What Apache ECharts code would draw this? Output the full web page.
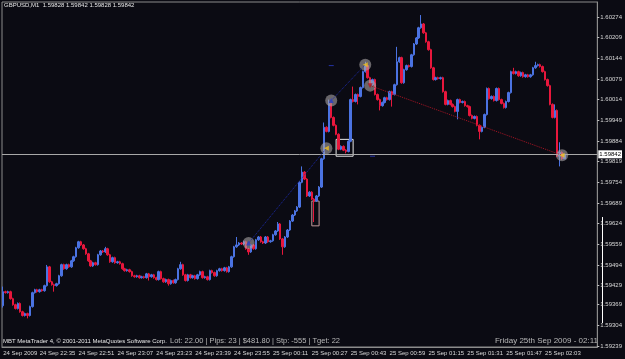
<!DOCTYPE html>
<html>
<head>
<meta charset="utf-8">
<script src="https://cdn.jsdelivr.net/npm/echarts@6/dist/echarts.min.js"></script>
<style>
    html, body { margin: 0; padding: 0; background: #0b0b13; }
    #chart { width: 625px; height: 359px; }
</style>
</head>
<body>
<div id="chart"></div>
<script>
// GBPUSD M1 蜡烛数据 [open, close, low, high]，从 24 Sep 22:20 到 25 Sep 02:11
const candles = [
    [1.59366, 1.59410, 1.59360, 1.59426], [1.59410, 1.59407, 1.59404, 1.59413], [1.59407, 1.59410, 1.59404, 1.59413], [1.59410, 1.59388, 1.59385, 1.59413],
    [1.59388, 1.59369, 1.59366, 1.59391], [1.59369, 1.59357, 1.59354, 1.59372], [1.59357, 1.59373, 1.59354, 1.59376], [1.59373, 1.59347, 1.59344, 1.59376],
    [1.59347, 1.59335, 1.59332, 1.59350], [1.59335, 1.59341, 1.59332, 1.59344], [1.59341, 1.59335, 1.59326, 1.59344], [1.59335, 1.59363, 1.59332, 1.59366],
    [1.59363, 1.59407, 1.59360, 1.59410], [1.59407, 1.59416, 1.59404, 1.59419], [1.59416, 1.59410, 1.59407, 1.59419], [1.59410, 1.59416, 1.59407, 1.59419],
    [1.59416, 1.59413, 1.59410, 1.59419], [1.59413, 1.59429, 1.59410, 1.59432], [1.59429, 1.59488, 1.59426, 1.59494], [1.59488, 1.59441, 1.59438, 1.59491],
    [1.59441, 1.59432, 1.59429, 1.59444], [1.59432, 1.59429, 1.59410, 1.59435], [1.59429, 1.59435, 1.59426, 1.59438], [1.59435, 1.59460, 1.59432, 1.59463],
    [1.59460, 1.59495, 1.59457, 1.59498], [1.59495, 1.59482, 1.59479, 1.59498], [1.59482, 1.59495, 1.59479, 1.59498], [1.59495, 1.59488, 1.59485, 1.59498],
    [1.59488, 1.59507, 1.59485, 1.59510], [1.59507, 1.59520, 1.59504, 1.59523], [1.59520, 1.59548, 1.59517, 1.59551], [1.59548, 1.59567, 1.59545, 1.59570],
    [1.59567, 1.59557, 1.59554, 1.59570], [1.59557, 1.59545, 1.59542, 1.59560], [1.59545, 1.59529, 1.59526, 1.59548], [1.59529, 1.59507, 1.59504, 1.59532],
    [1.59507, 1.59491, 1.59488, 1.59510], [1.59491, 1.59501, 1.59488, 1.59504], [1.59501, 1.59495, 1.59492, 1.59504], [1.59495, 1.59526, 1.59492, 1.59529],
    [1.59526, 1.59538, 1.59523, 1.59541], [1.59538, 1.59535, 1.59532, 1.59541], [1.59535, 1.59545, 1.59532, 1.59551], [1.59545, 1.59526, 1.59523, 1.59548],
    [1.59526, 1.59504, 1.59501, 1.59529], [1.59504, 1.59517, 1.59501, 1.59520], [1.59517, 1.59501, 1.59498, 1.59520], [1.59501, 1.59504, 1.59498, 1.59507],
    [1.59504, 1.59498, 1.59495, 1.59507], [1.59498, 1.59482, 1.59479, 1.59501], [1.59482, 1.59476, 1.59473, 1.59485], [1.59476, 1.59479, 1.59473, 1.59482],
    [1.59479, 1.59473, 1.59470, 1.59482], [1.59473, 1.59460, 1.59457, 1.59476], [1.59460, 1.59457, 1.59454, 1.59463], [1.59457, 1.59460, 1.59454, 1.59463],
    [1.59460, 1.59454, 1.59451, 1.59463], [1.59454, 1.59457, 1.59451, 1.59460], [1.59457, 1.59454, 1.59451, 1.59460], [1.59454, 1.59466, 1.59451, 1.59469],
    [1.59466, 1.59457, 1.59445, 1.59469], [1.59457, 1.59463, 1.59454, 1.59466], [1.59463, 1.59454, 1.59451, 1.59466], [1.59454, 1.59448, 1.59445, 1.59457],
    [1.59448, 1.59473, 1.59445, 1.59476], [1.59473, 1.59451, 1.59448, 1.59476], [1.59451, 1.59441, 1.59438, 1.59454], [1.59441, 1.59448, 1.59438, 1.59451],
    [1.59448, 1.59435, 1.59429, 1.59451], [1.59435, 1.59445, 1.59432, 1.59448], [1.59445, 1.59438, 1.59435, 1.59448], [1.59438, 1.59448, 1.59435, 1.59451],
    [1.59448, 1.59482, 1.59445, 1.59485], [1.59482, 1.59495, 1.59479, 1.59504], [1.59495, 1.59463, 1.59460, 1.59498], [1.59463, 1.59445, 1.59442, 1.59466],
    [1.59445, 1.59463, 1.59442, 1.59466], [1.59463, 1.59454, 1.59451, 1.59466], [1.59454, 1.59460, 1.59451, 1.59463], [1.59460, 1.59451, 1.59448, 1.59463],
    [1.59451, 1.59463, 1.59448, 1.59466], [1.59463, 1.59473, 1.59460, 1.59476], [1.59473, 1.59454, 1.59451, 1.59476], [1.59454, 1.59457, 1.59451, 1.59460],
    [1.59457, 1.59448, 1.59445, 1.59460], [1.59448, 1.59476, 1.59445, 1.59479], [1.59476, 1.59470, 1.59467, 1.59479], [1.59470, 1.59460, 1.59457, 1.59473],
    [1.59460, 1.59476, 1.59457, 1.59479], [1.59476, 1.59482, 1.59473, 1.59485], [1.59482, 1.59476, 1.59473, 1.59485], [1.59476, 1.59485, 1.59473, 1.59488],
    [1.59485, 1.59473, 1.59470, 1.59488], [1.59473, 1.59488, 1.59470, 1.59491], [1.59488, 1.59520, 1.59485, 1.59523], [1.59520, 1.59551, 1.59517, 1.59554],
    [1.59551, 1.59557, 1.59548, 1.59582], [1.59557, 1.59563, 1.59554, 1.59566], [1.59563, 1.59560, 1.59557, 1.59566], [1.59560, 1.59567, 1.59557, 1.59570],
    [1.59567, 1.59545, 1.59542, 1.59570], [1.59545, 1.59535, 1.59526, 1.59548], [1.59535, 1.59557, 1.59532, 1.59560], [1.59557, 1.59545, 1.59542, 1.59560],
    [1.59545, 1.59573, 1.59542, 1.59576], [1.59573, 1.59582, 1.59570, 1.59585], [1.59582, 1.59567, 1.59564, 1.59585], [1.59567, 1.59563, 1.59560, 1.59570],
    [1.59563, 1.59582, 1.59560, 1.59585], [1.59582, 1.59567, 1.59564, 1.59585], [1.59567, 1.59570, 1.59564, 1.59573], [1.59570, 1.59589, 1.59567, 1.59592],
    [1.59589, 1.59601, 1.59586, 1.59604], [1.59601, 1.59623, 1.59598, 1.59629], [1.59623, 1.59576, 1.59573, 1.59626], [1.59576, 1.59551, 1.59526, 1.59579],
    [1.59551, 1.59582, 1.59548, 1.59585], [1.59582, 1.59604, 1.59579, 1.59607], [1.59604, 1.59632, 1.59601, 1.59635], [1.59632, 1.59651, 1.59629, 1.59654],
    [1.59651, 1.59664, 1.59648, 1.59667], [1.59664, 1.59676, 1.59661, 1.59679], [1.59676, 1.59754, 1.59673, 1.59757], [1.59754, 1.59786, 1.59751, 1.59804],
    [1.59786, 1.59764, 1.59761, 1.59789], [1.59764, 1.59711, 1.59708, 1.59767], [1.59711, 1.59723, 1.59708, 1.59726], [1.59723, 1.59701, 1.59698, 1.59726],
    [1.59701, 1.59695, 1.59629, 1.59704], [1.59695, 1.59711, 1.59692, 1.59714], [1.59711, 1.59739, 1.59708, 1.59742], [1.59739, 1.59828, 1.59736, 1.59831],
    [1.59828, 1.59927, 1.59825, 1.59942], [1.59927, 1.59914, 1.59911, 1.59930], [1.59914, 1.60002, 1.59911, 1.60014], [1.60002, 1.59958, 1.59955, 1.60005],
    [1.59958, 1.59933, 1.59930, 1.59961], [1.59933, 1.59905, 1.59902, 1.59936], [1.59905, 1.59858, 1.59855, 1.59908], [1.59858, 1.59867, 1.59855, 1.59870],
    [1.59867, 1.59855, 1.59852, 1.59870], [1.59855, 1.59851, 1.59845, 1.59858], [1.59851, 1.59883, 1.59848, 1.59886], [1.59883, 1.60014, 1.59880, 1.60017],
    [1.60014, 1.60008, 1.60005, 1.60055], [1.60008, 1.60030, 1.60005, 1.60033], [1.60030, 1.60024, 1.59999, 1.60033], [1.60024, 1.60052, 1.60021, 1.60055],
    [1.60052, 1.60102, 1.60049, 1.60105], [1.60102, 1.60121, 1.60099, 1.60133], [1.60121, 1.60083, 1.60080, 1.60124], [1.60083, 1.60061, 1.60058, 1.60086],
    [1.60061, 1.60077, 1.60058, 1.60080], [1.60077, 1.60030, 1.60027, 1.60080], [1.60030, 1.60014, 1.60011, 1.60033], [1.60014, 1.59995, 1.59980, 1.60017],
    [1.59995, 1.60005, 1.59992, 1.60008], [1.60005, 1.60020, 1.60002, 1.60023], [1.60020, 1.60014, 1.60011, 1.60023], [1.60014, 1.60039, 1.60011, 1.60042],
    [1.60039, 1.60030, 1.59992, 1.60042], [1.60030, 1.60061, 1.60027, 1.60064], [1.60061, 1.60133, 1.60058, 1.60180], [1.60133, 1.60146, 1.60130, 1.60149],
    [1.60146, 1.60067, 1.60064, 1.60149], [1.60067, 1.60108, 1.60064, 1.60111], [1.60108, 1.60121, 1.60105, 1.60124], [1.60121, 1.60118, 1.60115, 1.60124],
    [1.60118, 1.60155, 1.60115, 1.60158], [1.60155, 1.60189, 1.60152, 1.60192], [1.60189, 1.60208, 1.60186, 1.60211], [1.60208, 1.60240, 1.60205, 1.60243],
    [1.60240, 1.60252, 1.60237, 1.60280], [1.60252, 1.60224, 1.60221, 1.60255], [1.60224, 1.60196, 1.60193, 1.60227], [1.60196, 1.60171, 1.60168, 1.60199],
    [1.60171, 1.60114, 1.60111, 1.60174], [1.60114, 1.60077, 1.60074, 1.60117], [1.60077, 1.60083, 1.60074, 1.60086], [1.60083, 1.60080, 1.60077, 1.60086],
    [1.60080, 1.60083, 1.60077, 1.60086], [1.60083, 1.60039, 1.60036, 1.60086], [1.60039, 1.59999, 1.59996, 1.60042], [1.59999, 1.60011, 1.59996, 1.60014],
    [1.60011, 1.59999, 1.59996, 1.60014], [1.59999, 1.59992, 1.59989, 1.60002], [1.59992, 1.59977, 1.59974, 1.59995], [1.59977, 1.60014, 1.59952, 1.60017],
    [1.60014, 1.60005, 1.60002, 1.60017], [1.60005, 1.60008, 1.60002, 1.60011], [1.60008, 1.59995, 1.59992, 1.60011], [1.59995, 1.59992, 1.59989, 1.59998],
    [1.59992, 1.59964, 1.59961, 1.59995], [1.59964, 1.59955, 1.59952, 1.59967], [1.59955, 1.59961, 1.59952, 1.59964], [1.59961, 1.59933, 1.59930, 1.59964],
    [1.59933, 1.59914, 1.59889, 1.59936], [1.59914, 1.59927, 1.59911, 1.59930], [1.59927, 1.59967, 1.59924, 1.59970], [1.59967, 1.60049, 1.59964, 1.60052],
    [1.60049, 1.60017, 1.60014, 1.60052], [1.60017, 1.60024, 1.60014, 1.60027], [1.60024, 1.60011, 1.60008, 1.60027], [1.60011, 1.60049, 1.60008, 1.60052],
    [1.60049, 1.60014, 1.60011, 1.60052], [1.60014, 1.60002, 1.59999, 1.60017], [1.60002, 1.59989, 1.59986, 1.60005], [1.59989, 1.60008, 1.59986, 1.60011],
    [1.60008, 1.60036, 1.60005, 1.60039], [1.60036, 1.60102, 1.60033, 1.60105], [1.60102, 1.60096, 1.60093, 1.60114], [1.60096, 1.60102, 1.60093, 1.60105],
    [1.60102, 1.60089, 1.60086, 1.60105], [1.60089, 1.60099, 1.60086, 1.60102], [1.60099, 1.60086, 1.60083, 1.60102], [1.60086, 1.60092, 1.60083, 1.60095],
    [1.60092, 1.60086, 1.60083, 1.60095], [1.60086, 1.60092, 1.60083, 1.60095], [1.60092, 1.60114, 1.60089, 1.60117], [1.60114, 1.60121, 1.60111, 1.60133],
    [1.60121, 1.60124, 1.60118, 1.60127], [1.60124, 1.60118, 1.60115, 1.60127], [1.60118, 1.60102, 1.60099, 1.60121], [1.60102, 1.60077, 1.60074, 1.60105],
    [1.60077, 1.60058, 1.60055, 1.60080], [1.60058, 1.59999, 1.59996, 1.60061], [1.59999, 1.59958, 1.59955, 1.60002], [1.59958, 1.59980, 1.59955, 1.59999],
    [1.59980, 1.59836, 1.59833, 1.59983], [1.59836, 1.59848, 1.59804, 1.59880], [1.59848, 1.59828, 1.59825, 1.59851], [1.59828, 1.59842, 1.59828, 1.59842]
];

// 右侧价格刻度
const priceTicks = [1.60274, 1.60209, 1.60144, 1.60079, 1.60014, 1.59949, 1.59884, 1.59819,
    1.59754, 1.59689, 1.59624, 1.59559, 1.59494, 1.59429, 1.59369, 1.59304, 1.59239];

// 底部时间刻度（第一个标签只显示日期）
const timeLabels = ['24 Sep 2009', '24 Sep 22:35', '24 Sep 22:51', '24 Sep 23:07', '24 Sep 23:23',
    '24 Sep 23:39', '24 Sep 23:55', '25 Sep 00:11', '25 Sep 00:27', '25 Sep 00:43', '25 Sep 00:59',
    '25 Sep 01:15', '25 Sep 01:31', '25 Sep 01:47', '25 Sep 02:03'];

// 交易标记：K线序号、价格、类型
const tradeBars = [101, 133, 135, 149, 151, 230];
const tradePrices = [1.59563, 1.59861, 1.60011, 1.60124, 1.60058, 1.59839];
const tradeKinds = ['buy', 'close', 'buy', 'close', 'sell', 'close'];
// 开平仓连线（tradeBars 中的下标）
const tradePairs = [[0, 1], [2, 3], [4, 5]];

// 挂单小横线
const orderBars = [135, 152];
const orderPrices = [1.60121, 1.59836];

// 方框 [起始K线, 结束K线, 低价, 高价]
const boxes = [[137, 144, 1.59836, 1.59889], [127, 130, 1.59617, 1.59695]];

const infoText = 'Lot: 22.00 | Pips: 23 | $481.80 | Stp: -555 | Tget: 22';
const dateText = 'Friday 25th Sep 2009 - 02:11';
const copyText = 'MBT MetaTrader 4, \u00a9 2001-2011 MetaQuotes Software Corp.';

// 颜色配置
const colors = {
    bg: '#0b0b13',
    up: '#4b73e2',
    down: '#e8173c',
    frame: '#8c8c8c',
    text: '#d8d8d8',
    buy: '#2a3cc8',
    sell: '#b01420',
    close: '#f0c020'
};

// 分钟 category，末尾留出图表右移的空位
const categories = [];
for (let i = 0; i < 245; i++) {
    const m = (22 * 60 + 20 + i) % 1440;
    const day = (22 * 60 + 20 + i) >= 1440 ? '25' : '24';
    const hh = String(Math.floor(m / 60)).padStart(2, '0');
    const mm = String(m % 60).padStart(2, '0');
    categories.push(day + ' Sep ' + hh + ':' + mm);
}

const showTime = (idx, val) => idx === 0 || timeLabels.includes(val);
const last = candles[candles.length - 1];
const font = 'Liberation Sans';

const chart = echarts.init(document.getElementById('chart'));

const option = {
    backgroundColor: colors.bg,
    animation: false,
    grid: {
        left: 2, right: 23, top: 2, bottom: 12,
        show: true, borderColor: colors.frame, borderWidth: 1
    },
    xAxis: {
        type: 'category',
        data: categories,
        boundaryGap: true,
        axisLine: { lineStyle: { color: colors.frame } },
        axisTick: { alignWithLabel: true, interval: showTime, length: 2, lineStyle: { color: '#c0c0c0' } },
        axisLabel: {
            interval: showTime,
            formatter: (v, i) => i === 0 ? timeLabels[0] : v,
            align: 'left', color: colors.text, fontSize: 6, fontFamily: font, margin: 3
        },
        splitLine: { show: false }
    },
    yAxis: {
        type: 'value',
        position: 'right',
        min: 1.59236,
        max: 1.60321,
        axisLine: { show: true, lineStyle: { color: colors.frame } },
        axisTick: { show: true, length: 2, customValues: priceTicks, lineStyle: { color: '#c0c0c0' } },
        axisLabel: {
            customValues: priceTicks,
            formatter: v => v.toFixed(5),
            color: colors.text, fontSize: 6, fontFamily: font, margin: 3
        },
        splitLine: { show: false }
    },
    graphic: [
        {
            type: 'text', left: 4, top: 2,
            style: { text: 'GBPUSD,M1  ' + [last[0], last[3], last[2], last[1]].map(v => v.toFixed(5)).join(' '),
                fill: '#e6e6e6', font: '6px ' + font }
        },
        {
            type: 'text', left: 3, top: 338,
            style: { text: copyText, fill: '#e6e6e6', font: '6px ' + font }
        },
        {
            type: 'text', left: 170, top: 337,
            style: { text: infoText, fill: '#b8b8b8', font: '7.5px ' + font }
        },
        {
            type: 'text', right: 27, top: 337,
            style: { text: dateText, fill: '#b8b8b8', font: '8px ' + font }
        },
        {
            type: 'line', shape: { x1: 602.5, y1: 217, x2: 602.5, y2: 323 },
            style: { stroke: '#ffffff', lineWidth: 1 }
        }
    ],
    series: [
        {
            name: 'GBPUSD',
            type: 'candlestick',
            data: candles,
            barWidth: 2,
            itemStyle: {
                color: colors.up, color0: colors.down,
                borderColor: colors.up, borderColor0: colors.down, borderWidth: 1
            },
            markArea: {
                silent: true,
                itemStyle: { color: 'transparent', borderColor: '#e8e8e8', borderWidth: 1 },
                data: boxes.map((b, i) => [
                    { coord: [b[0], b[3]], itemStyle: i === 1 ? { borderColor: '#c09a9a' } : {} },
                    { coord: [b[1], b[2]] }
                ])
            }
        },
        {
            // 当前价水平线
            name: 'bid',
            type: 'scatter',
            data: [],
            markLine: {
                silent: true,
                precision: 5,
                symbol: ['none', 'none'],
                lineStyle: { color: '#a8a8a8', type: 'solid', width: 1 },
                label: {
                    show: true, position: 'end', distance: 1,
                    formatter: p => Number(p.value).toFixed(5),
                    backgroundColor: '#ffffff', color: '#000000',
                    fontSize: 6, fontFamily: font, padding: [1, 1]
                },
                data: [{ yAxis: last[1] }]
            },
            z: 2
        },
        {
            name: 'orders',
            type: 'scatter',
            symbol: 'rect',
            symbolSize: [5, 1],
            itemStyle: { color: '#2a3cc8' },
            data: orderBars.map((b, i) => [b, orderPrices[i]]),
            z: 3
        },
        {
            name: 'trades',
            type: 'scatter',
            symbol: 'circle',
            symbolSize: 12,
            itemStyle: { color: 'rgba(175, 170, 170, 0.72)' },
            data: tradeBars.map((b, i) => [b, tradePrices[i]]),
            markLine: {
                silent: true,
                precision: 5,
                symbol: ['none', 'none'],
                label: { show: false },
                data: tradePairs.map(p => [
                    { coord: [tradeBars[p[0]], tradePrices[p[0]]],
                      lineStyle: { color: tradeKinds[p[0]] === 'buy' ? '#1c2aa8' : '#a81424', type: 'dotted', width: 1 } },
                    { coord: [tradeBars[p[1]], tradePrices[p[1]]] }
                ])
            },
            z: 4
        },
        {
            name: 'arrows',
            type: 'scatter',
            symbol: 'triangle',
            data: tradeBars.map((b, i) => ({
                value: [b, tradePrices[i]],
                symbolRotate: tradeKinds[i] === 'close' ? 90 : (tradeKinds[i] === 'sell' ? 180 : 0),
                symbolSize: 5,
                itemStyle: { color: colors[tradeKinds[i]] }
            })),
            z: 5
        }
    ]
};

chart.setOption(option);

window.addEventListener('resize', () => {
    chart.resize();
});
</script>
</body>
</html>
